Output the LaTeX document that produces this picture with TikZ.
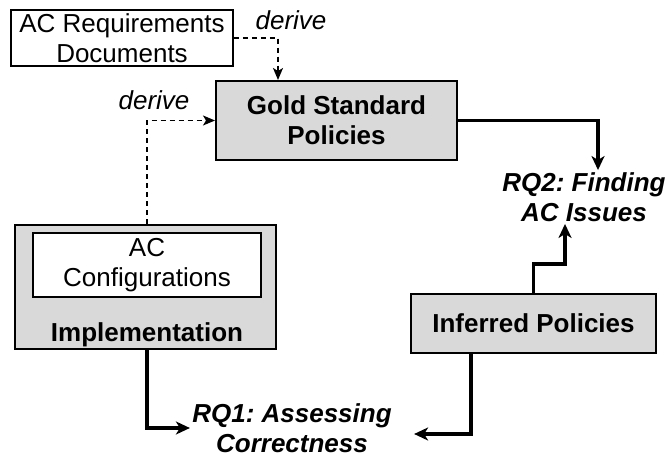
\documentclass[tikz,border=0pt]{standalone}
\usepackage{fontspec}
\setmainfont{Liberation Sans}
\usetikzlibrary{positioning}
\usetikzlibrary{arrows.meta}
\definecolor{boxgray}{RGB}{217,217,217}
\frenchspacing

\begin{document}
\begin{tikzpicture}[x=0.5pt,y=-0.5pt,
  plainbox/.style={draw,line width=0.75pt,fill=white,align=center,inner sep=0pt,font=\fontsize{13}{15}\selectfont},
  graybox/.style={draw,line width=1pt,fill=boxgray,align=center,inner sep=0pt,font=\bfseries\fontsize{13}{15}\selectfont},
  boldtext/.style={inner sep=0pt,font=\bfseries\fontsize{13}{15}\selectfont},
  question/.style={align=center,inner sep=1pt,font=\bfseries\itshape\fontsize{13}{15}\selectfont},
  note/.style={inner sep=0pt,font=\itshape\fontsize{13}{15}\selectfont},
  solidarrow/.style={line width=1.8pt,-{Stealth[length=7pt,width=6.5pt,inset=2pt]}},
  dashline/.style={line width=0.75pt,dash pattern=on 2.5pt off 2pt,-{Stealth[length=6pt,width=5pt,inset=1.5pt]}}]
  \useasboundingbox (0,0) rectangle (668,458);

  \node [plainbox,minimum width=111pt,minimum height=28pt]   (req)  at (122,38)     {AC Requirements\\Documents};
  \node [graybox,minimum width=120.5pt,minimum height=39.5pt] (gold) at (336.5,120.5) {Gold Standard\\Policies};
  \node [graybox,minimum width=130.5pt,minimum height=62pt]  (impl) at (145.5,287)  {};
  \node [plainbox,minimum width=114pt,minimum height=32pt]   (conf) at (147,265)    {AC\\Configurations};
  \node [boldtext,anchor=base]                               (impltext) at (147,342) {Implementation};
  \node [graybox,minimum width=122.5pt,minimum height=29.5pt] (inf) at (533.5,323.5) {Inferred Policies};
  \node [question] (rq1) at (292,428) {RQ1: Assessing\\Correctness};
  \node [question] (rq2) at (584,197) {RQ2: Finding\\AC Issues};
  \node [note] (derivetop)  at (291,20)  {derive};
  \node [note] (deriveleft) at (154,100) {derive};

  \draw [dashline] (req.east) -| ([xshift=-29.25pt]gold.north);
  \draw [dashline] ([xshift=0.75pt]impl.north) |- (gold.west);
  \draw [solidarrow] (gold.east) -| ([xshift=7pt]rq2.north);
  \draw [solidarrow] (inf.north) -- ++(0,-29) -| ([xshift=-9.5pt]rq2.south);
  \draw [solidarrow] ([xshift=0.75pt]impl.south) |- (rq1.west);
  \draw [solidarrow] ([xshift=-31.25pt]inf.south) |- ([xshift=10pt,yshift=-3pt]rq1.east);
\end{tikzpicture}
\end{document}
